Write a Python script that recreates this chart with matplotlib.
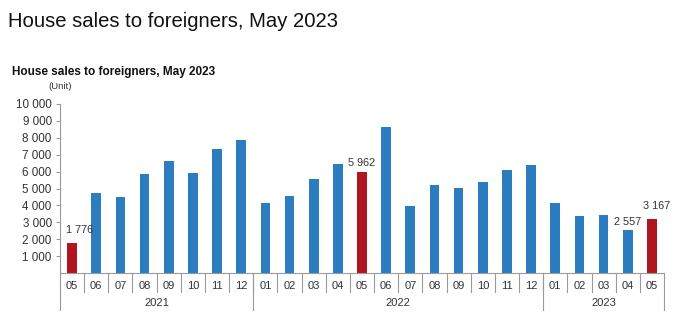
import numpy as np
import matplotlib.pyplot as plt

plt.rcParams['font.family'] = ['Liberation Sans', 'DejaVu Sans']

# data
months = ['05', '06', '07', '08', '09', '10', '11', '12',
          '01', '02', '03', '04', '05', '06', '07', '08', '09', '10', '11', '12',
          '01', '02', '03', '04', '05']
sales = [1776, 4750, 4480, 5860, 6610, 5900, 7360, 7870,
         4160, 4570, 5580, 6450, 5962, 8660, 3960, 5220, 5010, 5370, 6080, 6390,
         4160, 3370, 3410, 2557, 3167]
years = ['2021', '2022', '2023']
year_counts = [8, 12, 5]
highlight = [0, 12, 24]
labelled = {0: '1 776', 12: '5 962', 23: '2 557', 24: '3 167'}

blue = '#2c7cc0'
red = '#b0161f'
grey = '#9a9a9a'
txt = '#333333'

fig = plt.figure(figsize=(6.86, 3.34), dpi=100)
ax = fig.add_axes([60 / 686, 1 - 273 / 334, 604 / 686, 169 / 334])

x = np.arange(len(sales))
colors = [red if i in highlight else blue for i in x]
ax.bar(x, sales, width=0.4, color=colors)

ax.set_xlim(-0.5, len(sales) - 0.5)
ax.set_ylim(0, 10000)
ax.set_yticks(np.arange(1000, 10001, 1000))
ax.set_yticklabels([f'{v:,}'.replace(',', ' ') for v in range(1000, 10001, 1000)],
                   fontsize=8.4, color=txt)
ax.tick_params(axis='y', length=3, width=0.8, color=grey, pad=3)
ax.set_xticks([])

for s in ['top', 'right']:
    ax.spines[s].set_visible(False)
ax.spines['left'].set_color(grey)
ax.spines['bottom'].set_color(grey)
ax.spines['left'].set_bounds(0, 10000)

# value labels
offsets = {0: (0.3, 480), 12: (0, 250), 23: (0, 180), 24: (0.2, 520)}
for i, lab in labelled.items():
    dx, dy = offsets[i]
    ax.text(i + dx, sales[i] + dy, lab, ha='center', va='bottom', fontsize=7.8, color=txt)

# category axis: months and years
trans = ax.get_xaxis_transform()
for i, m in enumerate(months):
    ax.text(i, -0.075, m, transform=trans, ha='center', va='center', fontsize=8, color=txt)
for i in range(len(months) - 1):
    ax.plot([i + 0.5, i + 0.5], [0, -0.112], transform=trans, color=grey, lw=0.8, clip_on=False)

start = -0.5
for y, n in zip(years, year_counts):
    ax.text(start + n / 2, -0.175, y, transform=trans, ha='center', va='center', fontsize=8, color=txt)
    ax.plot([start, start], [0, -0.22], transform=trans, color=grey, lw=0.8, clip_on=False)
    start += n
ax.plot([start, start], [0, -0.22], transform=trans, color=grey, lw=0.8, clip_on=False)

# titles
fig.text(8 / 686, 1 - 12 / 334, 'House sales to foreigners, May 2023', fontsize=14.6,
         ha='left', va='top', color='#111111')
fig.text(12 / 686, 1 - 66 / 334, 'House sales to foreigners, May 2023', fontsize=8.5,
         fontweight='bold', ha='left', va='top', color='#111111')
fig.text(48 / 686, 1 - 82 / 334, '(Unit)', fontsize=6.8, ha='left', va='top', color=txt)

fig.savefig('out.png', dpi=100, facecolor='white')
